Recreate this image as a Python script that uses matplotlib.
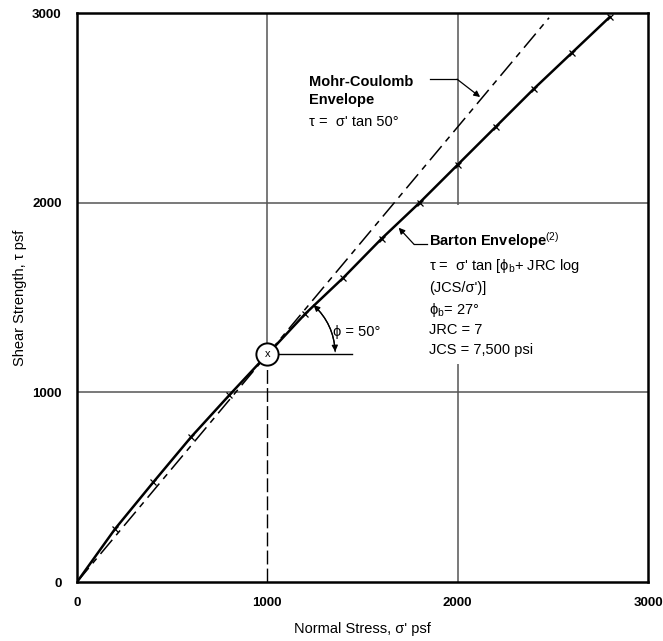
import matplotlib
matplotlib.use('Agg')
import matplotlib.pyplot as plt
from matplotlib.patches import Rectangle, FancyArrowPatch

plt.rcParams['font.family'] = ['Liberation Sans', 'DejaVu Sans']
plt.rcParams['mathtext.fontset'] = 'custom'
plt.rcParams['mathtext.rm'] = 'Liberation Sans'
plt.rcParams['mathtext.it'] = 'Liberation Sans:italic'
plt.rcParams['mathtext.bf'] = 'Liberation Sans:bold'

# Barton envelope (psf)
barton_sigma = [0, 200, 400, 600, 800, 1000, 1200, 1400, 1600, 1800,
                2000, 2200, 2400, 2600, 2800]
barton_tau = [0, 280, 525, 765, 985, 1200, 1415, 1605, 1810, 2000,
              2200, 2400, 2600, 2790, 2980]

# Mohr-Coulomb envelope, tau = sigma' tan 50
mc_sigma = [0, 2480]
mc_tau = [0, 2975]

# tangent point
tan_sigma = 1000
tan_tau = 1200

ticks = [0, 1000, 2000, 3000]
tick_labels = ['0', '1000', '2000', '3000']

fig = plt.figure(figsize=(6.63, 6.41), dpi=100)
ax = fig.add_axes([0.1161, 0.092, 0.8613, 0.8877])
ax.set_xlim(0, 3000)
ax.set_ylim(0, 3000)

grid_kw = dict(color='#555555', lw=1.1, zorder=1)
ax.axhline(1000, **grid_kw)
ax.axhline(2000, **grid_kw)
ax.axvline(2000, **grid_kw)
ax.axvline(1000, ymin=tan_tau / 3000, **grid_kw)

# dashed drop line below the tangent point
ax.plot([tan_sigma, tan_sigma], [0, tan_tau], color='black', lw=1.0,
        dashes=(10, 3), zorder=2)

# Mohr-Coulomb (dashed)
ax.plot(mc_sigma, mc_tau, color='black', lw=1.1, dashes=(12, 4, 4, 4),
        zorder=3)

# Barton envelope
ax.plot(barton_sigma, barton_tau, color='black', lw=1.8, zorder=4)
ax.plot(barton_sigma[1:], barton_tau[1:], ls='none', marker='x', ms=4.5,
        mew=0.9, color='black', zorder=5)

# tangent point marker
ax.plot(tan_sigma, tan_tau, marker='o', ms=16, mfc='white', mec='black',
        mew=1.4, zorder=6)
ax.text(tan_sigma, tan_tau, 'x', ha='center', va='center', fontsize=8,
        zorder=7)

# phi angle
ax.plot([tan_sigma, 1445], [tan_tau, tan_tau], color='black', lw=1.0, zorder=3)
arc = FancyArrowPatch((1357, 1200), (1232, 1470),
                      connectionstyle='arc3,rad=0.22', arrowstyle='-|>',
                      mutation_scale=9, color='black', lw=0.9, zorder=6)
ax.add_patch(arc)
arc2 = FancyArrowPatch((1232, 1470), (1357, 1200),
                       connectionstyle='arc3,rad=-0.22', arrowstyle='-|>',
                       mutation_scale=9, color='black', lw=0.9, zorder=6)
ax.add_patch(arc2)
ax.text(1345, 1318, 'ϕ = 50°', fontsize=10.5, va='center')

# Mohr-Coulomb label
ax.text(1219, 2636, 'Mohr-Coulomb', fontsize=10.5, fontweight='bold',
        va='center')
ax.text(1219, 2541, 'Envelope', fontsize=10.5, fontweight='bold',
        va='center')
ax.text(1219, 2425, 'τ =  σ\' tan 50°', fontsize=10.5, va='center')
ax.plot([1855, 1997], [2651, 2651], color='black', lw=0.9)
ax.annotate('', xy=(2118, 2557), xytext=(1997, 2651),
            arrowprops=dict(arrowstyle='-|>', color='black', lw=0.9,
                            mutation_scale=9, shrinkA=0, shrinkB=0))

# Barton label
ax.add_patch(Rectangle((1830, 1150), 1000, 840, facecolor='white',
                       edgecolor='none', zorder=2))
tx = 1850
ax.text(tx, 1800, 'Barton Envelope$^{(2)}$', fontsize=10.5,
        fontweight='bold', va='center', zorder=8)
ax.text(tx, 1666, 'τ =  σ\' tan [ϕ$_\\mathrm{b}$+ JRC log', fontsize=10.5,
        va='center', zorder=8)
ax.text(tx, 1550, '(JCS/σ\')]', fontsize=10.5, va='center', zorder=8)
ax.text(tx, 1434, 'ϕ$_\\mathrm{b}$= 27°', fontsize=10.5, va='center',
        zorder=8)
ax.text(tx, 1328, 'JRC = 7', fontsize=10.5, va='center', zorder=8)
ax.text(tx, 1223, 'JCS = 7,500 psi', fontsize=10.5, va='center', zorder=8)
ax.plot([1839, 1771], [1780, 1780], color='black', lw=0.9, zorder=8)
ax.annotate('', xy=(1690, 1868), xytext=(1771, 1780),
            arrowprops=dict(arrowstyle='-|>', color='black', lw=0.9,
                            mutation_scale=9, shrinkA=0, shrinkB=0),
            zorder=8)

for s in ax.spines.values():
    s.set_linewidth(1.8)
    s.set_zorder(9)

ax.set_xticks(ticks)
ax.set_xticklabels(tick_labels, fontweight='bold', fontsize=9.5)
ax.set_yticks(ticks)
ax.set_yticklabels(tick_labels, fontweight='bold', fontsize=9.5)
ax.tick_params(length=0, pad=11)

ax.set_xlabel('Normal Stress, σ\' psf', fontsize=10.5, labelpad=9)
ax.set_ylabel('Shear Strength, τ psf', fontsize=10.5, labelpad=4)

fig.savefig('out.png', dpi=100)
